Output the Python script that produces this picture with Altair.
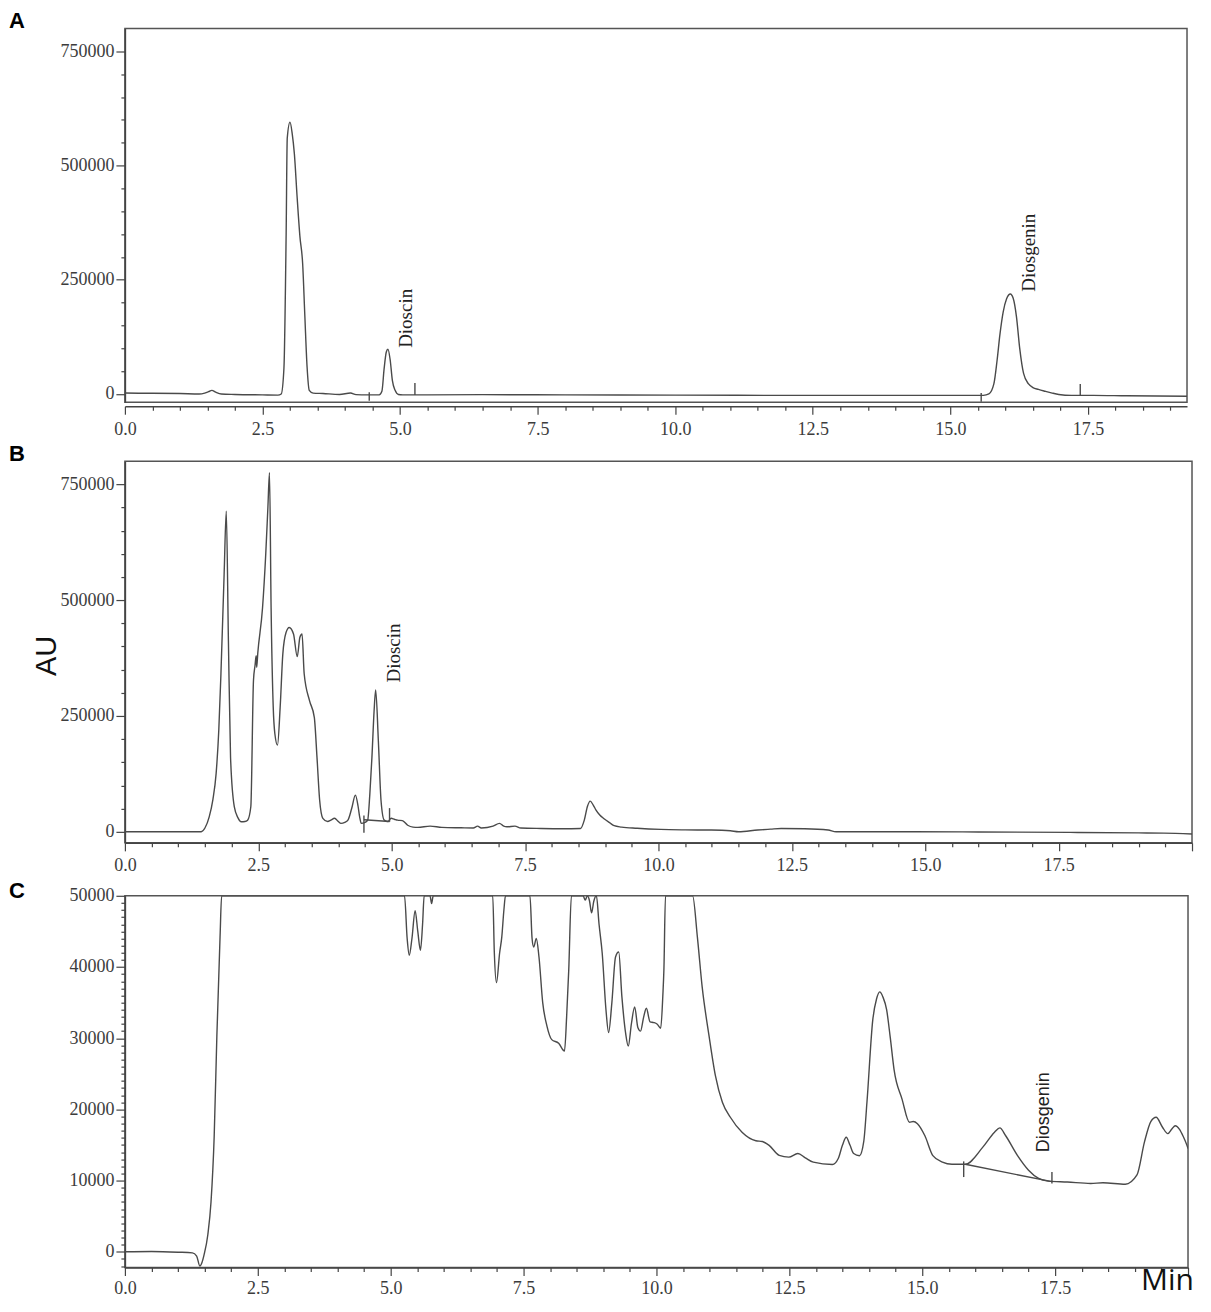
import altair as alt
import pandas as pd

# ---------------- Panel A ----------------
A_time = [0.0, 0.5, 1.0, 1.35, 1.45, 1.52, 1.58, 1.65, 1.75, 2.0, 2.5, 2.78, 2.84, 2.89, 2.93,
          2.95, 3.0, 3.04, 3.08, 3.13, 3.18, 3.23, 3.27, 3.31, 3.35, 3.42, 3.6, 3.9, 4.1, 4.2,
          4.4, 4.62, 4.67, 4.71, 4.75, 4.78, 4.82, 4.86, 4.91, 4.97, 5.05, 5.5, 6.5, 8.0, 10.0,
          12.0, 14.0, 15.0, 15.6, 15.7, 15.79, 15.85, 15.9, 15.96, 16.02, 16.09, 16.14, 16.2,
          16.26, 16.33, 16.42, 16.5, 16.6, 16.72, 16.85, 16.97, 17.2, 17.6, 18.2, 19.3]
A_signal = [2000, 1500, 1000, 0, 2000, 5000, 8000, 4000, 0, -1000, -2000, -2500, 0, 57000, 350000,
            560000, 595000, 570000, 525000, 430000, 345000, 285000, 170000, 60000, 8000, 2000, 1000,
            -1000, 2000, -1500, -2000, -2000, 6000, 55000, 92000, 98000, 75000, 30000, 8000, -1000,
            -2000, -2000, -1500, -2000, -2500, -3000, -3000, -3000, -3000, 0, 22000, 75000, 130000,
            180000, 208000, 219000, 210000, 170000, 100000, 45000, 22000, 14000, 10000, 6000, 2000,
            -1000, -3000, -3000, -4000, -5000]
A_mark_t = [4.44, 5.27, 15.56, 17.36]
A_mark_lo = [-15000, -2000, -17000, -3000]
A_mark_hi = [4000, 24000, 2000, 22000]
A_lab = ["Dioscin", "Diosgenin"]
A_lab_t = [5.11, 16.42]
A_lab_v = [101000, 224000]

# ---------------- Panel B ----------------
B_time = [0.0, 1.0, 1.43, 1.5, 1.58, 1.65, 1.71, 1.76, 1.80, 1.86, 1.90, 1.94, 1.98, 2.05, 2.12,
          2.18, 2.25, 2.30, 2.36, 2.41, 2.44, 2.46, 2.47, 2.49, 2.58, 2.64, 2.68, 2.71, 2.74, 2.78,
          2.81, 2.86, 2.91, 2.96, 3.02, 3.08, 3.16, 3.23, 3.28, 3.32, 3.36, 3.46, 3.55, 3.60, 3.65,
          3.71, 3.80, 3.86, 3.93, 4.0, 4.05, 4.12, 4.18, 4.25, 4.32, 4.37, 4.40, 4.43, 4.5, 4.55,
          4.59, 4.63, 4.67, 4.70, 4.75, 4.80, 4.86, 4.93, 4.99, 5.05, 5.11, 5.20, 5.30, 5.40, 5.49,
          5.72, 5.94, 6.3, 6.53, 6.61, 6.68, 6.9, 7.02, 7.1, 7.16, 7.31, 7.42, 7.8, 8.2, 8.54,
          8.61, 8.67, 8.72, 8.78, 8.83, 8.9, 8.98, 9.09, 9.17, 9.31, 9.6, 10.04, 10.5, 10.99,
          11.35, 11.50, 11.86, 12.1, 12.30, 12.74, 13.18, 13.33, 14.79, 16.0, 17.72, 19.0, 19.47, 20.0]
B_signal = [0, 0, 0, 8000, 32000, 70000, 126000, 220000, 341000, 557000, 692000, 413000, 161000,
            54000, 30000, 21500, 22000, 25000, 54000, 327000, 360000, 380000, 355000, 385000, 484000,
            600000, 700000, 775000, 484000, 269000, 212000, 187000, 269000, 384000, 430000, 441000,
            427000, 378000, 420000, 427000, 341000, 283000, 247000, 161000, 68000, 29000, 22000,
            25000, 29000, 22000, 18000, 20000, 25000, 50000, 79000, 55000, 32000, 18000, 20000,
            25000, 80000, 161000, 260000, 306000, 197000, 68000, 25000, 22000, 29000, 27000, 25000,
            24000, 14000, 10000, 9500, 12000, 9500, 8500, 8000, 12000, 8000, 12000, 18000, 12000,
            10700, 12000, 8000, 7000, 6500, 7000, 25000, 55000, 66000, 57000, 46700, 36000, 28000,
            19000, 13000, 10000, 7500, 5000, 4000, 3600, 2000, 0, 3600, 5500, 7000, 6500, 3600, 0,
            0, -500, -1500, -2500, -3000, -5000]
B_mark_t = [4.48, 4.96]
B_mark_lo = [-2000, 21500]
B_mark_hi = [35000, 51000]
B_base_t = [4.48, 4.96]
B_base_v = [26000, 22000]
B_lab = ["Dioscin"]
B_lab_t = [5.04]
B_lab_v = [322000]

# ---------------- Panel C ----------------
C_time = [0.0, 0.5, 1.0, 1.27, 1.35, 1.41, 1.45, 1.49, 1.56, 1.62, 1.68, 1.73, 1.79, 1.82, 5.26,
          5.31, 5.35, 5.40, 5.46, 5.51, 5.56, 5.60, 5.63, 5.74, 5.77, 5.80, 6.92, 6.95, 6.99, 7.05,
          7.09, 7.13, 7.16, 7.62, 7.66, 7.69, 7.74, 7.79, 7.86, 7.94, 8.03, 8.16, 8.27, 8.31, 8.35,
          8.40, 8.62, 8.66, 8.70, 8.74, 8.78, 8.82, 8.87, 8.92, 8.98, 9.05, 9.10, 9.16, 9.23, 9.29,
          9.35, 9.42, 9.47, 9.53, 9.59, 9.65, 9.70, 9.76, 9.81, 9.88, 9.95, 10.01, 10.08, 10.12,
          10.14, 10.17, 10.68, 10.77, 10.86, 10.99, 11.11, 11.24, 11.39, 11.61, 11.87, 11.99, 12.12,
          12.31, 12.49, 12.66, 12.8, 12.95, 13.31, 13.42, 13.50, 13.57, 13.64, 13.71, 13.82, 13.90,
          13.96, 14.07, 14.14, 14.20, 14.26, 14.33, 14.40, 14.47, 14.62, 14.76, 14.83, 14.91, 15.05,
          15.20, 15.38, 15.56, 15.81, 16.14, 16.36, 16.46, 16.57, 16.79, 17.0, 17.19, 17.37, 17.73,
          18.17, 18.4, 18.82, 19.04, 19.18, 19.30, 19.40, 19.52, 19.62, 19.70, 19.76, 19.84, 19.91,
          19.98, 20.0]
C_signal = [0, 50, -50, -150, -600, -2000, -1500, -400, 2400, 7000, 16300, 30300, 44200, 50000,
            50000, 44000, 41650, 44000, 47900, 45000, 42350, 46000, 50000, 50000, 48900, 50000,
            50000, 42000, 37800, 42000, 44200, 48000, 50000, 50000, 44000, 42800, 44000, 41400,
            35000, 31700, 29800, 29300, 28200, 33000, 39600, 50000, 50000, 49400, 50000, 49300,
            47600, 49200, 50000, 46000, 41900, 34000, 30800, 34900, 41400, 42100, 35800, 30700,
            28900, 32100, 34400, 31500, 31000, 33000, 34200, 32300, 32200, 32000, 31400, 36000,
            39600, 50000, 50000, 44200, 37200, 30300, 24700, 21000, 18900, 16800, 15600, 15500,
            14950, 13550, 13300, 13800, 13200, 12600, 12260, 13100, 15000, 16100, 15000, 13800,
            13500, 15500, 21000, 32600, 35500, 36500, 35800, 34000, 30000, 25600, 21450, 18200,
            18300, 18000, 16300, 13500, 12600, 12300, 12300, 14700, 16800, 17400, 16300, 13550,
            11470, 10300, 9930, 9800, 9600, 9700, 9500, 10800, 15400, 18300, 18900, 17500, 16600,
            17300, 17700, 17200, 16200, 14950, 14500]
C_mark_t = [15.78, 17.44]
C_mark_lo = [10500, 9600]
C_mark_hi = [12700, 11200]
C_base_t = [15.81, 17.44]
C_base_v = [12300, 9850]
C_lab = ["Diosgenin"]
C_lab_t = [17.3]
C_lab_v = [14000]

LINE = "#4a4a4a"
AXC = "#444444"
LABC = "#3c3c3c"


def x_axis(xmax, offset=0, pad=6):
    vals = [round(i * 0.5, 1) for i in range(int(round(xmax / 0.5)) + 1)]
    return alt.Axis(
        values=vals, title=None, grid=False, offset=offset,
        labelExpr="(datum.value % 2.5 === 0 && datum.value < 19.9) ? format(datum.value, '.1f') : ''",
        tickSize={"condition": {"test": "datum.value % 2.5 === 0", "value": 8}, "value": 4},
        labelOverlap=False, labelFlush=False, labelPadding=pad,
        labelFont="Liberation Serif", labelFontSize=18, labelColor=LABC,
        domainColor=AXC, domainWidth=1.5, tickColor=AXC, tickWidth=1.2,
    )


def y_axis(vals, major):
    return alt.Axis(
        values=vals, title=None, grid=False,
        labelExpr=f"datum.value % {major} === 0 ? format(datum.value, 'd') : ''",
        tickSize={"condition": {"test": f"datum.value % {major} === 0", "value": 9}, "value": 4},
        labelOverlap=False, labelFlush=False, labelPadding=2,
        labelFont="Liberation Serif", labelFontSize=18, labelColor=LABC,
        domainColor=AXC, domainWidth=1.5, tickColor=AXC, tickWidth=1.2,
    )


def panel(t, v, xmax, ydom, yvals, ymajor, w, h, mark_t, mark_lo, mark_hi, lab, lab_t, lab_v,
          lab_font, lab_size, letter, letter_y, base_t=None, base_v=None, x_offset=0, x_pad=6,
          extras=None):
    xs = alt.Scale(domain=[0, xmax], nice=False, zero=False)
    ys = alt.Scale(domain=ydom, nice=False, zero=False)
    xa = x_axis(xmax, x_offset, x_pad)
    ya = y_axis(yvals, ymajor)
    df = pd.DataFrame({"t": t, "v": v})
    line = alt.Chart(df).mark_line(color=LINE, strokeWidth=1.4, interpolate="monotone", clip=True).encode(
        x=alt.X("t:Q", scale=xs, axis=xa),
        y=alt.Y("v:Q", scale=ys, axis=ya),
    )
    layers = [line]
    mdf = pd.DataFrame({"t": mark_t, "v": mark_lo, "hi": mark_hi})
    layers.append(alt.Chart(mdf).mark_rule(color=LINE, strokeWidth=1.4).encode(
        x=alt.X("t:Q", scale=xs, axis=xa),
        y=alt.Y("v:Q", scale=ys, axis=ya),
        y2="hi:Q",
    ))
    if base_t is not None:
        bdf = pd.DataFrame({"t": base_t, "v": base_v})
        layers.append(alt.Chart(bdf).mark_line(color=LINE, strokeWidth=1.4).encode(
            x=alt.X("t:Q", scale=xs, axis=xa),
            y=alt.Y("v:Q", scale=ys, axis=ya),
        ))
    ldf = pd.DataFrame({"t": lab_t, "v": lab_v, "s": lab})
    layers.append(alt.Chart(ldf).mark_text(angle=270, align="left", baseline="middle",
                                           font=lab_font, fontSize=lab_size, color="#222").encode(
        x=alt.X("t:Q", scale=xs, axis=xa),
        y=alt.Y("v:Q", scale=ys, axis=ya),
        text="s:N",
    ))
    letdf = pd.DataFrame({"s": [letter]})
    layers.append(alt.Chart(letdf).mark_text(align="left", baseline="alphabetic", font="Liberation Sans",
                                             fontSize=22, fontWeight="bold", color="black").encode(
        x=alt.value(-116), y=alt.value(letter_y), text="s:N"))
    if extras:
        layers.extend(extras)
    return alt.layer(*layers).properties(width=w, height=h)


au = alt.Chart(pd.DataFrame({"s": ["AU"]})).mark_text(
    angle=270, align="center", baseline="middle", font="Liberation Sans", fontSize=29, color="#111"
).encode(x=alt.value(-78), y=alt.value(195), text="s:N")

mn = alt.Chart(pd.DataFrame({"s": ["Min"]})).mark_text(
    align="right", baseline="alphabetic", font="Open Sans", fontSize=30, color="#111"
).encode(x=alt.value(1070), y=alt.value(395), text="s:N")

pA = panel(A_time, A_signal, 19.3, [-18000, 800000], list(range(0, 800000, 50000)), 250000,
           1063, 374, A_mark_t, A_mark_lo, A_mark_hi, A_lab, A_lab_t, A_lab_v,
           "Liberation Serif", 19, "A", -1, x_offset=4)
pB = panel(B_time, B_signal, 20.0, [-24000, 800000], list(range(0, 800000, 50000)), 250000,
           1068, 382, B_mark_t, B_mark_lo, B_mark_hi, B_lab, B_lab_t, B_lab_v,
           "Liberation Serif", 19, "B", 0, base_t=B_base_t, base_v=B_base_v, extras=[au])
pC = panel(C_time, C_signal, 20.0, [-2200, 50000], list(range(-2000, 50001, 1000)), 10000,
           1064, 372, C_mark_t, C_mark_lo, C_mark_hi, C_lab, C_lab_t, C_lab_v,
           "Liberation Sans", 18, "C", 2, base_t=C_base_t, base_v=C_base_v, x_pad=4, extras=[mn])

chart = alt.concat(pA, pB, pC, columns=1, align="none", bounds="full", spacing=3).properties(
    padding={"left": 0, "top": 0, "right": 8, "bottom": 0},
    background="white",
).configure_view(stroke="#555555", strokeWidth=1.5)

chart.save("out.html", embed_options={"renderer": "svg", "actions": False})
